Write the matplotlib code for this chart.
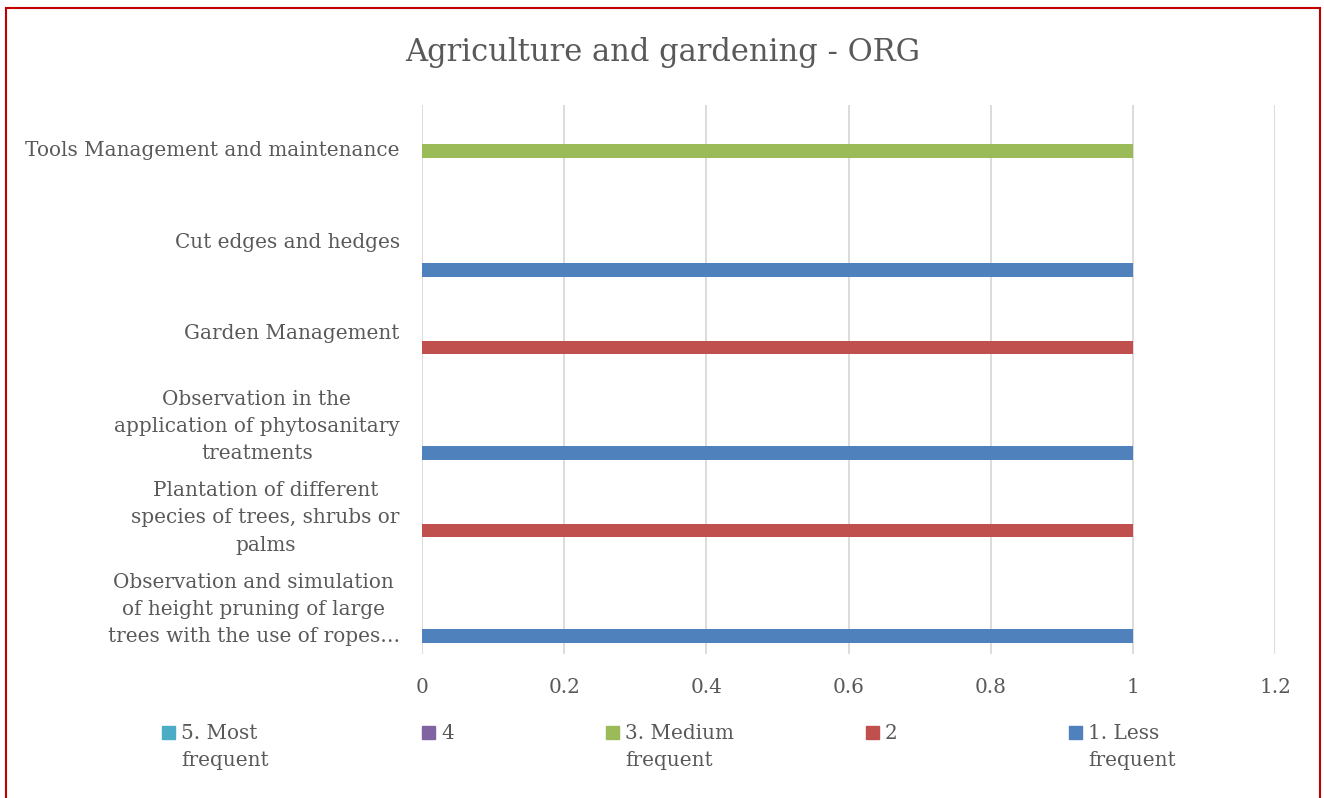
import matplotlib.pyplot as plt
import matplotlib.patches as mpatches
import matplotlib.transforms as mtransforms
import numpy as np

# categories bottom -> top (Excel order)
categories = [
    "Observation and simulation\nof height pruning of large\ntrees with the use of ropes…",
    "Plantation of different\nspecies of trees, shrubs or\npalms",
    "Observation in the\napplication of phytosanitary\ntreatments",
    "Garden Management",
    "Cut edges and hedges",
    "Tools Management and maintenance",
]
series_names = ["1. Less\nfrequent", "2", "3. Medium\nfrequent", "4", "5. Most\nfrequent"]
less_frequent = [1, 0, 1, 0, 1, 0]
s2 = [0, 1, 0, 1, 0, 0]
medium_frequent = [0, 0, 0, 0, 0, 1]
s4 = [0, 0, 0, 0, 0, 0]
most_frequent = [0, 0, 0, 0, 0, 0]
colors = ["#4F81BD", "#C0504D", "#9BBB59", "#8064A2", "#4BACC6"]
xticks = [0, 0.2, 0.4, 0.6, 0.8, 1, 1.2]

W, H = 1324, 798
TXT = "#595959"
FONT = "DejaVu Serif"
FS = 14.4
LS = 1.55
plt.rcParams['font.family'] = FONT

fig = plt.figure(figsize=(W / 100, H / 100), dpi=100)
ax = fig.add_axes([422 / W, 1 - 654 / H, (1275 - 422) / W, (654 - 105) / H])

y = np.arange(len(categories))
h = 0.1503
all_series = [less_frequent, s2, medium_frequent, s4, most_frequent]
for i, vals in enumerate(all_series):
    ax.barh(y + (i - 2) * h, vals, height=h, color=colors[i], zorder=3)

ax.set_xlim(0, 1.2)
ax.set_ylim(-0.5, len(categories) - 0.5)
ax.set_xticks(xticks)
ax.set_xticklabels(["0", "0.2", "0.4", "0.6", "0.8", "1", "1.2"])
ax.set_yticks(y)
ax.set_yticklabels(categories, multialignment="center", linespacing=LS)
ax.tick_params(length=0, labelsize=FS, colors=TXT)
ax.tick_params(axis="x", pad=17)
ax.tick_params(axis="y", pad=16)
ax.grid(axis="x", color="#D9D9D9", linewidth=1.3, zorder=0)
for s in ax.spines.values():
    s.set_visible(False)

# nudge category labels up a little (Excel centres on the text, not the descender)
for lab in ax.get_yticklabels():
    dy = 5 if "\n" in lab.get_text() else 2
    lab.set_transform(lab.get_transform() + mtransforms.ScaledTranslation(0, dy / 100, fig.dpi_scale_trans))

fig.text(663 / W, 1 - 52 / H, "Agriculture and gardening - ORG", ha="center", va="center",
         fontsize=22, color=TXT)

# legend, Excel style: equal-width entries, text wraps under label
leg_x = [162, 422, 606, 866, 1069]
leg_order = [4, 3, 2, 1, 0]
for xpix, idx in zip(leg_x, leg_order):
    fig.patches.append(mpatches.Rectangle((xpix / W, 1 - 739 / H), 13 / W, 13 / H,
                                          transform=fig.transFigure, color=colors[idx]))
    fig.text((xpix + 19) / W, 1 - 724 / H, series_names[idx], ha="left", va="top",
             fontsize=FS, color=TXT, linespacing=LS)

# red outer border
fig.patches.append(mpatches.Rectangle((6 / W, -0.01), (1320 - 6) / W, (798 - 8) / H + 0.01,
                                      transform=fig.transFigure, fill=False,
                                      edgecolor="#C00000", linewidth=1.5))

fig.savefig("out.png", dpi=100, facecolor="white")
